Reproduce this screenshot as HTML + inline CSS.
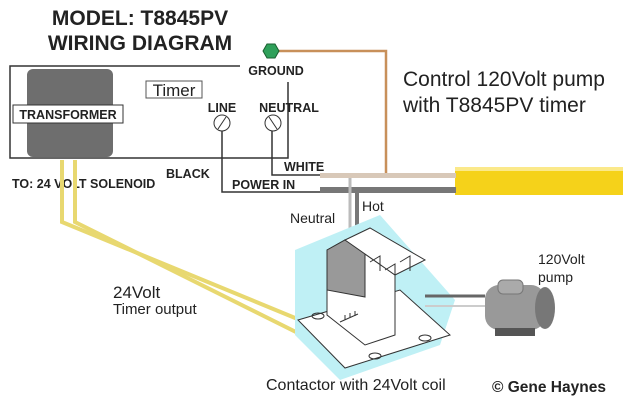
<!DOCTYPE html>
<html><head><style>body{margin:0;background:#fff}svg{display:block}</style></head><body>
<svg width="623" height="400" viewBox="0 0 623 400" xmlns="http://www.w3.org/2000/svg" font-family="Liberation Sans, sans-serif">
<text x="140" y="25" font-size="21" font-weight="bold" text-anchor="middle" fill="#222">MODEL: T8845PV</text>
<text x="140" y="50" font-size="21" font-weight="bold" text-anchor="middle" fill="#222">WIRING DIAGRAM</text>
<text x="403" y="86" font-size="21" fill="#222">Control 120Volt pump</text>
<text x="403" y="112" font-size="21" fill="#222">with T8845PV timer</text>
<polyline points="278,51 386,51 386,176 460,176" fill="none" stroke="#c8905a" stroke-width="2.5"/>
<polygon points="263,51 267,44 275,44 279,51 275,58 267,58" fill="#2fa05a" stroke="#1a6030"/>
<polyline points="240,66 10,66 10,158 288,158 288,82" fill="none" stroke="#333" stroke-width="1.5"/>
<rect x="27" y="69" width="86" height="88" rx="6" fill="#6e6e6e"/>
<rect x="13" y="105" width="110" height="18" fill="#fff" stroke="#333"/>
<text x="68" y="119" font-size="12.5" font-weight="bold" text-anchor="middle" fill="#222">TRANSFORMER</text>
<rect x="146" y="81" width="56" height="17" fill="#fff" stroke="#555"/>
<text x="174" y="96" font-size="17" text-anchor="middle" fill="#222">Timer</text>
<text x="276" y="75" font-size="12.5" font-weight="bold" text-anchor="middle" fill="#222">GROUND</text>
<text x="222" y="112" font-size="12.5" font-weight="bold" text-anchor="middle" fill="#222">LINE</text>
<text x="289" y="112" font-size="12.5" font-weight="bold" text-anchor="middle" fill="#222">NEUTRAL</text>
<circle cx="222" cy="123" r="8" fill="#fff" stroke="#333"/><line x1="218" y1="129" x2="226" y2="117" stroke="#333"/>
<circle cx="273" cy="123" r="8" fill="#fff" stroke="#333"/><line x1="269" y1="117" x2="277" y2="129" stroke="#333"/>
<polyline points="222,131 222,192 320,192" fill="none" stroke="#333" stroke-width="1.5"/>
<polyline points="272,131 272,175 320,175" fill="none" stroke="#333" stroke-width="1.5"/>
<text x="284" y="171" font-size="12.5" font-weight="bold" fill="#222">WHITE</text>
<text x="166" y="178" font-size="12.5" font-weight="bold" fill="#222">BLACK</text>
<text x="232" y="189" font-size="12.5" font-weight="bold" fill="#222">POWER IN</text>
<text x="12" y="188" font-size="12.5" font-weight="bold" fill="#222">TO: 24 VOLT SOLENOID</text>
<rect x="455" y="167" width="168" height="28" fill="#f5d21a"/>
<rect x="455" y="167" width="168" height="4" fill="#fbe98a"/>
<rect x="320" y="173" width="136" height="5" fill="#d8c8b8"/>
<rect x="320" y="187" width="136" height="6" fill="#777"/>
<line x1="350" y1="178" x2="350" y2="240" stroke="#bbb" stroke-width="3"/>
<line x1="357" y1="193" x2="357" y2="235" stroke="#777" stroke-width="4"/>
<text x="290" y="223" font-size="14" fill="#222">Neutral</text>
<text x="362" y="211" font-size="14" fill="#222">Hot</text>
<polyline points="62,160 62,222 300,320" fill="none" stroke="#e8d870" stroke-width="4"/>
<polyline points="75,160 75,222 322,345" fill="none" stroke="#e8d870" stroke-width="4"/>
<polygon points="295,250 380,215 455,300 440,345 340,380 295,335" fill="#bff0f5"/>
<polygon points="298,320 400,290 450,335 345,368" fill="#fff" stroke="#333"/>
<polygon points="327,250 345,240 395,275 395,335 365,345 327,315" fill="#fff" stroke="#333"/>
<polygon points="327,250 345,240 365,252 365,297 327,290" fill="#999" stroke="#333"/>
<polygon points="345,240 370,228 425,260 395,275" fill="#fff" stroke="#333"/>
<path d="M370,262 l10,-6 0,15 M385,270 l10,-6 0,15 M400,262 l10,-6 0,15" stroke="#333" fill="none"/>
<path d="M340,322 l18,-8 M345,320 v-5 M350,318 v-5 M355,316 v-5" stroke="#333" fill="none"/>
<ellipse cx="318" cy="316" rx="6" ry="3" fill="none" stroke="#333"/>
<ellipse cx="375" cy="356" rx="6" ry="3" fill="none" stroke="#333"/>
<ellipse cx="425" cy="338" rx="6" ry="3" fill="none" stroke="#333"/>
<line x1="425" y1="296" x2="485" y2="296" stroke="#666" stroke-width="3"/>
<line x1="425" y1="306" x2="485" y2="306" stroke="#ccc" stroke-width="2"/>
<rect x="485" y="285" width="60" height="45" rx="14" fill="#999"/>
<rect x="498" y="280" width="25" height="14" rx="5" fill="#aaa" stroke="#777"/>
<ellipse cx="545" cy="308" rx="10" ry="21" fill="#777"/>
<rect x="495" y="328" width="40" height="8" fill="#555"/>
<text x="538" y="264" font-size="14" fill="#222">120Volt</text>
<text x="538" y="282" font-size="14" fill="#222">pump</text>
<text x="113" y="298" font-size="17" fill="#222">24Volt</text>
<text x="113" y="314" font-size="15" fill="#222">Timer output</text>
<text x="266" y="390" font-size="16" fill="#222">Contactor with 24Volt coil</text>
<text x="492" y="392" font-size="15.5" font-weight="bold" fill="#222">© Gene Haynes</text>
</svg>
</body></html>
